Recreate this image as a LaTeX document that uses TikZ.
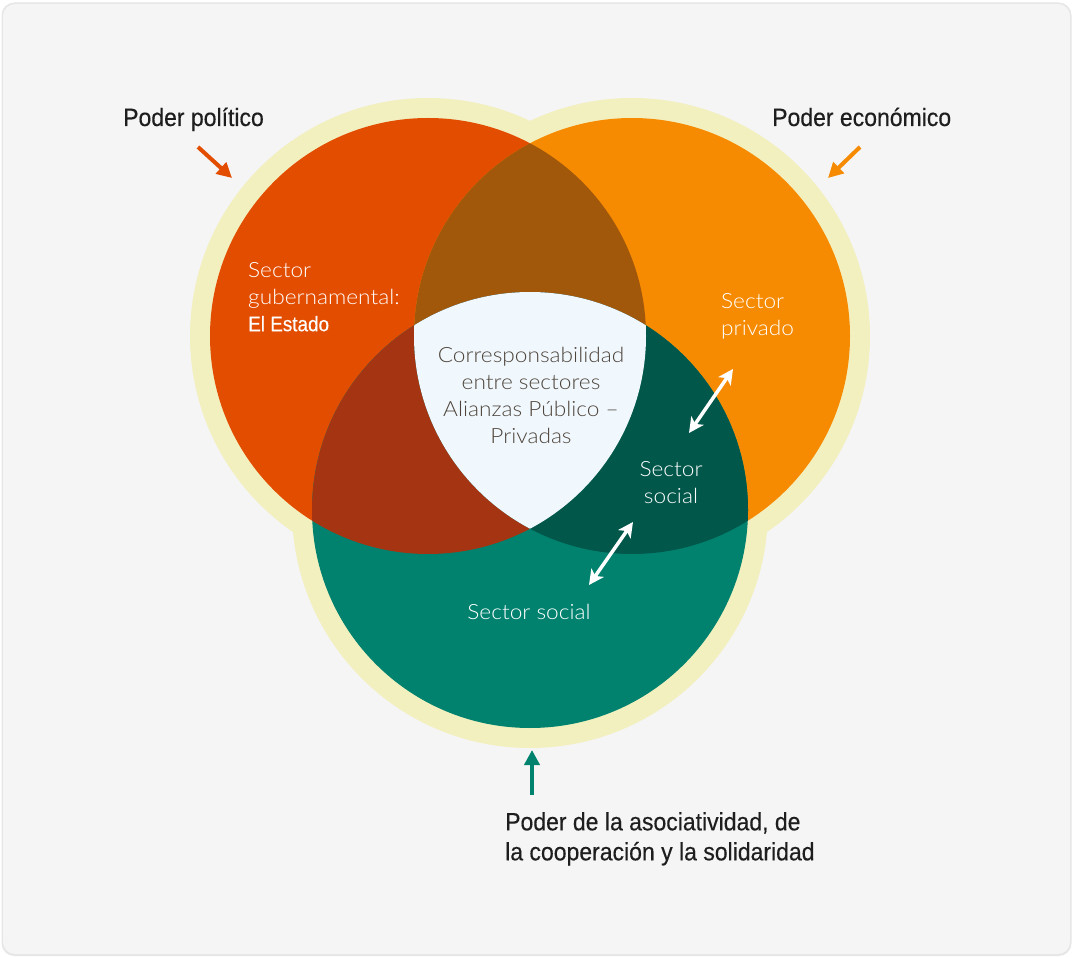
\documentclass[tikz,border=0pt]{standalone}
\usepackage{fontspec}
\usetikzlibrary{arrows.meta}
\setmainfont{Liberation Sans}
\newfontfamily\headfont{Liberation Sans}[FakeStretch=0.92, FakeBold=0.35]
\newfontfamily\lightfont{Lato Light}[FakeStretch=1.08]
\newfontfamily\mediumfont{Liberation Sans}[FakeStretch=0.9, FakeBold=0.3]

\definecolor{pagebg}{HTML}{FFFFFF}
\definecolor{panelbg}{HTML}{F5F5F5}
\definecolor{panelshade}{HTML}{E6E6E6}
\definecolor{ringcol}{HTML}{F3F0BF}
\definecolor{estado}{HTML}{E34D00}
\definecolor{privado}{HTML}{F68A00}
\definecolor{social}{HTML}{00826F}
\definecolor{estadoprivado}{HTML}{A1580B}
\definecolor{estadosocial}{HTML}{A53412}
\definecolor{privadosocial}{HTML}{00574A}
\definecolor{core}{HTML}{F0F8FD}
\definecolor{ink}{HTML}{1E1E1E}
\definecolor{coreink}{HTML}{4E443B}

\tikzset{
  heading/.style={font=\headfont\fontsize{25}{30}\selectfont, text=ink, inner sep=0pt},
  sectorlabel/.style={font=\lightfont\fontsize{21}{27}\selectfont, text=white, inner sep=0pt},
  corelabel/.style={font=\lightfont\fontsize{21}{27}\selectfont, text=coreink, inner sep=0pt, align=center},
  powerarrow/.style={line width=4pt, -{Triangle[length=15pt,width=15pt]}},
  linkarrow/.style={line width=3.5pt, white, {Stealth[length=15pt,width=15pt,inset=4pt]}-{Stealth[length=15pt,width=15pt,inset=4pt]}}
}

\begin{document}
\begin{tikzpicture}[x=1pt,y=-1pt]
  \useasboundingbox (0,0) rectangle (1073,957);
  \fill[pagebg] (0,0) rectangle (1073,957);
  % card
  \fill[panelshade, rounded corners=13pt] (1.5,2.5) rectangle (1071.5,956);
  \fill[panelbg, rounded corners=12pt] (3,4) rectangle (1070,954);

  % circle centres
  \coordinate (cL) at (428,336);
  \coordinate (cR) at (632,336);
  \coordinate (cB) at (530,510);

  % halo around the three sectors
  \fill[ringcol] (cL) circle[radius=238pt] (cR) circle[radius=238pt] (cB) circle[radius=238pt];

  % the three sectors
  \fill[estado] (cL) circle[radius=218pt];
  \fill[privado] (cR) circle[radius=218pt];
  \fill[social] (cB) circle[radius=218pt];

  % pairwise overlaps
  \begin{scope}
    \clip (cL) circle[radius=218pt];
    \fill[estadoprivado] (cR) circle[radius=218pt];
    \fill[estadosocial] (cB) circle[radius=218pt];
  \end{scope}
  \begin{scope}
    \clip (cR) circle[radius=218pt];
    \fill[privadosocial] (cB) circle[radius=218pt];
  \end{scope}
  % common core
  \begin{scope}
    \clip (cL) circle[radius=218pt];
    \clip (cR) circle[radius=218pt];
    \fill[core] (cB) circle[radius=218pt];
  \end{scope}

  % sector labels
  \node[sectorlabel, anchor=north west, align=left] (gob) at (248,262)
    {Sector\\gubernamental:\\{\mediumfont El Estado}};
  \node[sectorlabel, anchor=north west, align=left] (priv) at (721,293)
    {Sector\\privado};
  \node[sectorlabel, anchor=north, align=center] (socin) at (671,461)
    {Sector\\social};
  \node[sectorlabel, anchor=base] (socout) at (529,619) {Sector social};
  \node[corelabel, anchor=north] (core) at (531,347.5)
    {Corresponsabilidad\\entre sectores\\Alianzas Público –\\Privadas};

  % powers
  \node[heading, anchor=base west] (polit) at (123,126) {Poder político};
  \node[heading, anchor=base west] (econ) at (772,126) {Poder económico};
  \node[heading, anchor=north west, align=left] (asoc) at (505,812)
    {Poder de la asociatividad, de\\la cooperación y la solidaridad};

  % power arrows
  \coordinate (pa1) at (198,147); \coordinate (pa2) at (232,178);
  \coordinate (ea1) at (860,147); \coordinate (ea2) at (828,178);
  \coordinate (sa1) at (532,795); \coordinate (sa2) at (532,750);
  \draw[powerarrow, estado] (pa1) -- (pa2);
  \draw[powerarrow, privado] (ea1) -- (ea2);
  \draw[powerarrow, social] (sa1) -- (sa2);

  % two-way links of the social sector
  \coordinate (l1a) at (689,433); \coordinate (l1b) at (733,369);
  \coordinate (l2a) at (589,585); \coordinate (l2b) at (633,522);
  \draw[linkarrow] (l1a) -- (l1b);
  \draw[linkarrow] (l2a) -- (l2b);
\end{tikzpicture}
\end{document}
